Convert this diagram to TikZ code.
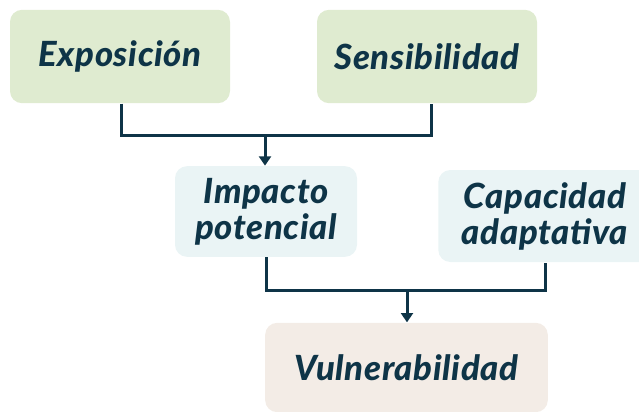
\documentclass[tikz,border=0pt]{standalone}
\usepackage{fontspec}
\setmainfont{Lato}[BoldItalicFont={Lato Black Italic},BoldItalicFeatures={LetterSpace=2}]
\usetikzlibrary{arrows.meta}

\definecolor{inkblue}{RGB}{14,52,71}
\definecolor{sagebox}{RGB}{223,235,208}
\definecolor{mistbox}{RGB}{234,244,245}
\definecolor{sandbox}{RGB}{243,236,230}

\tikzset{every picture/.style={line width=0.75pt}}
\tikzset{
  factor/.style={rounded corners=9pt, inner sep=0pt, align=center, text=inkblue,
    font=\fontsize{26}{27}\selectfont\bfseries\itshape},
  link/.style={draw=inkblue, line width=2.25pt},
  flow/.style={link, -{Triangle[width=9pt,length=7pt]}}
}

\begin{document}
\begin{tikzpicture}[x=0.75pt,y=0.75pt,yscale=-1,xscale=1]
\clip (0,0) rectangle (639,411);
\useasboundingbox (0,0) rectangle (639,411);

% Boxes
\node (expo) [factor, fill=sagebox, minimum width=165pt, minimum height=70pt] at (120,56.5) {Exposición};
\node (sens) [factor, fill=sagebox, minimum width=165pt, minimum height=70pt] at (427,56.5) {Sensibilidad};
\node (impact) [factor, fill=mistbox, minimum width=136.5pt, minimum height=68pt] at (266,211.5) {Impacto\\potencial};
\node (capac) [factor, fill=mistbox, minimum width=160pt, minimum height=69pt] at (545,216) {Capacidad\\adaptativa};
\node (vuln) [factor, fill=sandbox, minimum width=212pt, minimum height=67pt] at (406.5,367.5) {Vulnerabilidad};

% Joins
\coordinate (topjoin) at (265,135);
\coordinate (lowjoin) at (407,290);

% Connectors
\draw [link] ([xshift=0.75pt]expo.south) |- (topjoin) -| ([xshift=3pt]sens.south);
\draw [flow] (topjoin) -- (topjoin |- impact.north);
\draw [link] (impact.south) |- (lowjoin) -| (capac.south);
\draw [flow] (lowjoin) -- (lowjoin |- vuln.north);

\end{tikzpicture}
\end{document}
